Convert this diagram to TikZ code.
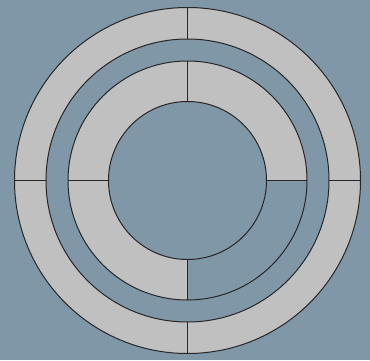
\documentclass[tikz,border=0pt]{standalone}
\usetikzlibrary{calc}
\definecolor{bgc}{HTML}{8097A8}
\definecolor{ringc}{HTML}{C0C0C0}
\begin{document}
\begin{tikzpicture}[x=1pt,y=1pt,
  edge/.style={draw=black!85,line width=1pt},
  ringfill/.style={fill=ringc}]
\fill[bgc] (0,0) rectangle (370,360);
\useasboundingbox (0,0) rectangle (370,360);
\coordinate (c) at (187.5,179.5);
% outer ring
\fill[ringc,even odd rule] (c) circle[radius=173] (c) circle[radius=141.5];
\draw[edge] (c) circle[radius=173];
\draw[edge] (c) circle[radius=141.5];
\foreach \a in {0,90,180,270}{
  \draw[edge] ($(c)+(\a:141.5)$) -- ($(c)+(\a:173)$);
}
% inner ring, three quarters filled
\fill[ringc] ($(c)+(0:119.5)$) arc[start angle=0,end angle=270,radius=119.5]
  -- ($(c)+(270:79)$) arc[start angle=270,end angle=0,radius=79] -- cycle;
\draw[edge] (c) circle[radius=119.5];
\draw[edge] (c) circle[radius=79];
\foreach \a in {0,90,180,270}{
  \draw[edge] ($(c)+(\a:79)$) -- ($(c)+(\a:119.5)$);
}
\end{tikzpicture}
\end{document}
